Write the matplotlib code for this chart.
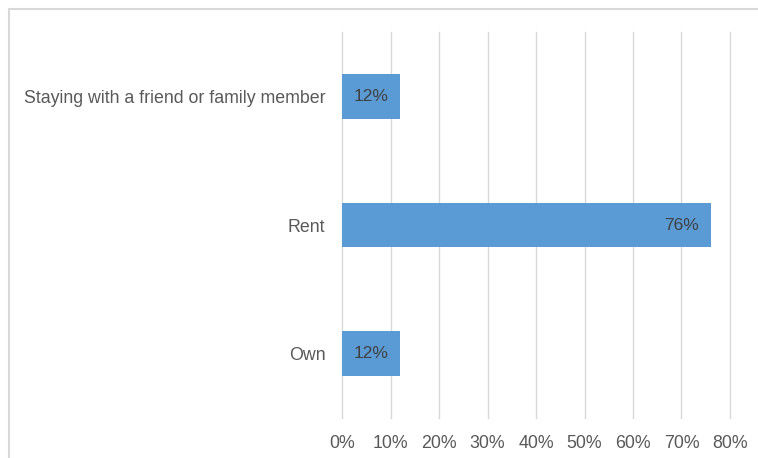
import matplotlib.pyplot as plt
from matplotlib.patches import Rectangle
from matplotlib.ticker import FuncFormatter

categories = ["Own", "Rent", "Staying with a friend or family member"]
shares = [12, 76, 12]
x_ticks = [0, 10, 20, 30, 40, 50, 60, 70, 80]

BAR_COLOR = "#5B9BD5"
GRID_COLOR = "#D9D9D9"
TEXT_COLOR = "#595959"

plt.rcParams["font.family"] = ["Liberation Sans", "DejaVu Sans"]

fig = plt.figure(figsize=(7.58, 4.58), dpi=100)
ax = fig.add_axes([342 / 758, 1 - 418 / 458, 388 / 758, 386 / 458])

# outer chart border
fig.patches.append(Rectangle((8.5 / 758, -0.05), 1.0, 1 - 9.5 / 458 + 0.05,
                             transform=fig.transFigure, fill=False,
                             edgecolor=GRID_COLOR, linewidth=1.5))

y = range(len(categories))
bars = ax.barh(y, shares, height=0.345, color=BAR_COLOR, zorder=3)

for rect, val in zip(bars, shares):
    ax.annotate(f"{val}%", xy=(rect.get_width(), rect.get_y() + rect.get_height() / 2),
                xytext=(-12, 0), textcoords="offset pixels",
                ha="right", va="center", fontsize=12.5, color="#404040", zorder=4)

ax.set_xlim(0, 80)
ax.set_ylim(-0.5, len(categories) - 0.5)
ax.set_xticks(x_ticks)
ax.xaxis.set_major_formatter(FuncFormatter(lambda v, _: f"{v:.0f}%"))
ax.set_yticks(list(y))
ax.set_yticklabels(categories)

ax.grid(axis="x", color=GRID_COLOR, linewidth=1, zorder=0)
for line in ax.get_xgridlines():
    line.set_clip_on(False)
for side in ["top", "right", "bottom", "left"]:
    ax.spines[side].set_visible(False)
ax.tick_params(axis="both", length=0, labelsize=12.8, colors=TEXT_COLOR)
ax.tick_params(axis="x", pad=12)
ax.tick_params(axis="y", pad=12)

fig.savefig("out.png", dpi=100)
